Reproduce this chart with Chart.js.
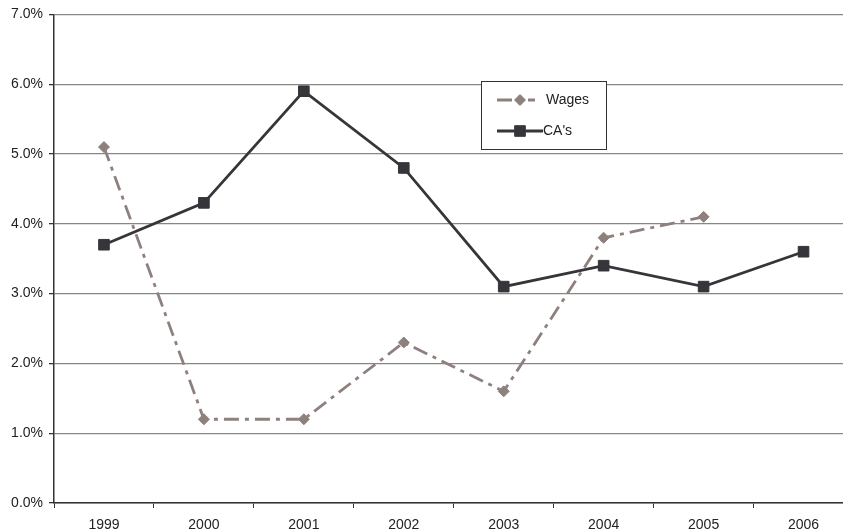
<!DOCTYPE html>
<html>
<head>
<meta charset="utf-8">
<script src="https://cdn.jsdelivr.net/npm/chart.js@4/dist/chart.umd.min.js"></script>
<style>
  html, body { margin: 0; padding: 0; background: #fff; overflow: hidden; }
  #wrap { width: 862px; height: 531px; position: relative; overflow: hidden; }
</style>
</head>
<body>
<div id="wrap"><canvas id="c" width="862" height="531"></canvas></div>
<script>
// Annual growth rates, percent
const years = ['1999', '2000', '2001', '2002', '2003', '2004', '2005', '2006'];
const wages = [5.1, 1.2, 1.2, 2.3, 1.6, 3.8, 4.1, null];
const cas   = [3.7, 4.3, 5.9, 4.8, 3.1, 3.4, 3.1, 3.6];
const seriesNames = ['Wages', "CA's"];

const WAGE_COLOR = '#8e817d';
const CA_COLOR = '#35353a';
const WAGE_DASH = [15, 6, 4, 6];
const FONT = 'Liberation Sans, Arial, sans-serif';

// Legend box drawn inside the plot area
const boxLegend = {
  id: 'boxLegend',
  afterDraw(chart) {
    const ctx = chart.ctx;
    const x0 = 481, y0 = 81, w = 125, h = 68;
    ctx.save();
    ctx.fillStyle = '#fff';
    ctx.fillRect(x0, y0, w, h);
    ctx.strokeStyle = '#333';
    ctx.lineWidth = 1;
    ctx.strokeRect(x0 + 0.5, y0 + 0.5, w, h);

    const rows = [
      { y: 100, ds: chart.data.datasets[0], x2: 535, tx: 546 },
      { y: 131, ds: chart.data.datasets[1], x2: 543, tx: 543 }
    ];
    rows.forEach(r => {
      ctx.beginPath();
      ctx.strokeStyle = r.ds.borderColor;
      ctx.lineWidth = r.ds.borderWidth;
      ctx.setLineDash(r.ds.borderDash || []);
      ctx.moveTo(497, r.y);
      ctx.lineTo(r.x2, r.y);
      ctx.stroke();
      ctx.setLineDash([]);
      ctx.fillStyle = r.ds.pointBackgroundColor;
      ctx.strokeStyle = r.ds.pointBorderColor;
      ctx.lineWidth = 1;
      Chart.helpers.drawPoint(ctx, {
        pointStyle: r.ds.pointStyle,
        radius: r.ds.pointRadius,
        rotation: 0,
        borderWidth: 1
      }, 520, r.y);
      ctx.fillStyle = '#222';
      ctx.font = '14px ' + FONT;
      ctx.textBaseline = 'middle';
      ctx.textAlign = 'left';
      ctx.fillText(r.ds.label, r.tx, r.y);
    });
    ctx.restore();
  }
};

new Chart(document.getElementById('c'), {
  type: 'line',
  data: {
    labels: years,
    datasets: [
      {
        label: seriesNames[0],
        data: wages,
        borderColor: WAGE_COLOR,
        backgroundColor: WAGE_COLOR,
        pointBackgroundColor: WAGE_COLOR,
        pointBorderColor: WAGE_COLOR,
        borderWidth: 2.8,
        borderDash: WAGE_DASH,
        pointStyle: 'rectRot',
        pointRadius: 5.5,
        pointBorderWidth: 1,
        tension: 0,
        spanGaps: false
      },
      {
        label: seriesNames[1],
        data: cas,
        borderColor: CA_COLOR,
        backgroundColor: CA_COLOR,
        pointBackgroundColor: CA_COLOR,
        pointBorderColor: CA_COLOR,
        borderWidth: 2.8,
        pointStyle: 'rect',
        pointRadius: 7.5,
        pointBorderWidth: 1,
        tension: 0
      }
    ]
  },
  options: {
    responsive: false,
    maintainAspectRatio: false,
    animation: false,
    devicePixelRatio: 1,
    layout: { padding: { top: 14, right: 0, bottom: 0, left: 0 } },
    plugins: {
      legend: { display: false },
      tooltip: { enabled: false }
    },
    scales: {
      x: {
        offset: true,
        grid: {
          offset: true,
          drawOnChartArea: false,
          drawTicks: true,
          tickLength: 5,
          color: '#333',
          tickColor: '#333'
        },
        border: { color: '#333', width: 1.5 },
        ticks: {
          color: '#222',
          font: { family: FONT, size: 14 },
          padding: 9,
          maxRotation: 0,
          autoSkip: false
        },
        afterFit(s) {
          s.height = 28;
          s.paddingLeft = 0;
          s.paddingRight = 0;
        }
      },
      y: {
        min: 0,
        max: 7,
        grid: {
          color: '#8a8686',
          lineWidth: 1.3,
          tickLength: 5,
          tickColor: '#333'
        },
        border: { color: '#333', width: 1.5 },
        ticks: {
          stepSize: 1,
          color: '#222',
          font: { family: FONT, size: 14 },
          padding: 6,
          callback: v => v.toFixed(1) + '%'
        },
        afterFit(s) { s.width = 54; }
      }
    }
  },
  plugins: [boxLegend]
});
</script>
</body>
</html>
